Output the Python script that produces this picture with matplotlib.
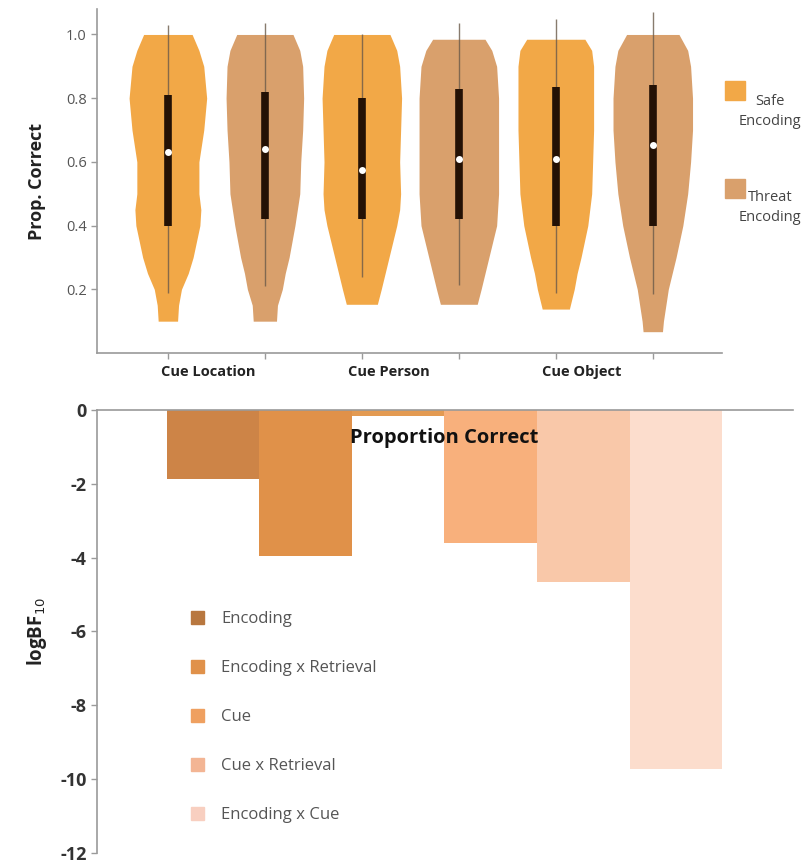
import numpy as np
import matplotlib
matplotlib.use("Agg")
import matplotlib.pyplot as plt
from matplotlib.patches import Patch, Rectangle

plt.rcParams["font.family"] = ["Open Sans", "DejaVu Sans"]

# ── Data: violin panel ────────────────────────────────────────────────────────
groups = ["Cue Location", "Cue Person", "Cue Object"]
encodings = ["Safe\nEncoding", "Threat\nEncoding"]

# violin outlines: y levels and half-widths (x units)
v_y = [
    [0.10, 0.15, 0.20, 0.25, 0.30, 0.40, 0.45, 0.50, 0.60, 0.70, 0.80, 0.90, 0.95, 1.00],
    [0.10, 0.15, 0.20, 0.25, 0.30, 0.40, 0.50, 0.60, 0.70, 0.80, 0.90, 0.95, 1.00],
    [0.153, 0.20, 0.25, 0.30, 0.40, 0.45, 0.50, 0.60, 0.70, 0.80, 0.90, 0.95, 1.00],
    [0.153, 0.20, 0.25, 0.30, 0.40, 0.50, 0.60, 0.70, 0.80, 0.90, 0.95, 0.985],
    [0.138, 0.20, 0.25, 0.30, 0.40, 0.50, 0.60, 0.70, 0.80, 0.90, 0.95, 0.985],
    [0.067, 0.10, 0.20, 0.30, 0.40, 0.50, 0.60, 0.70, 0.80, 0.90, 0.95, 1.00],
]
v_w = [
    [0.10, 0.11, 0.14, 0.21, 0.26, 0.33, 0.34, 0.32, 0.32, 0.37, 0.40, 0.37, 0.32, 0.25],
    [0.12, 0.13, 0.18, 0.21, 0.25, 0.31, 0.36, 0.37, 0.39, 0.40, 0.39, 0.36, 0.29],
    [0.16, 0.20, 0.24, 0.28, 0.36, 0.39, 0.40, 0.39, 0.40, 0.41, 0.39, 0.36, 0.29],
    [0.19, 0.23, 0.27, 0.31, 0.39, 0.41, 0.41, 0.41, 0.41, 0.39, 0.34, 0.27],
    [0.14, 0.19, 0.22, 0.26, 0.33, 0.37, 0.38, 0.39, 0.39, 0.39, 0.37, 0.30],
    [0.10, 0.11, 0.16, 0.24, 0.31, 0.36, 0.39, 0.41, 0.41, 0.39, 0.36, 0.27],
]
q1      = [0.40, 0.42, 0.42, 0.42, 0.40, 0.40]
medians = [0.63, 0.64, 0.575, 0.61, 0.61, 0.653]
q3      = [0.81, 0.82, 0.80, 0.83, 0.835, 0.84]
wlo     = [0.19, 0.21, 0.24, 0.215, 0.19, 0.185]
whi     = [1.03, 1.035, 1.00, 1.037, 1.05, 1.07]

# ── Data: Bayes factor panel ──────────────────────────────────────────────────
bf_values = [-1.87, -3.95, -0.17, -3.6, -4.66, -9.72]
bf_colors = ["#CD8447", "#E09149", "#E39A52", "#F8B07C", "#F9C8A9", "#FCDDCD"]
legend_labels = ["Encoding", "Encoding x Retrieval", "Cue", "Cue x Retrieval", "Encoding x Cue"]
legend_colors = ["#B8773F", "#E0914A", "#EFA060", "#F3B594", "#F8CFC0"]

SAFE, THREAT = "#F2A847", "#D9A06C"
GRAY = "#9a9a9a"

fig = plt.figure(figsize=(8.09, 8.64), dpi=100)

# ── (1) Violins ───────────────────────────────────────────────────────────────
ax1 = fig.add_axes([0.120, 0.5914, 0.772, 0.3982])
pos = np.arange(1, 7)
for i, p in enumerate(pos):
    col = SAFE if i % 2 == 0 else THREAT
    y = np.array(v_y[i]); w = np.array(v_w[i])
    ax1.fill_betweenx(y, p - w, p + w, color=col, lw=0, zorder=1)
    ax1.vlines(p, wlo[i], whi[i], color="#6b5a4a", lw=1.0, alpha=0.8, zorder=2)
    ax1.vlines(p, q1[i], q3[i], color="#241105", lw=5.5, zorder=3)
    ax1.plot(p, medians[i], "o", ms=5, color="white", mec="none", zorder=4)

ax1.set_xlim(0.27, 6.71)
ax1.set_ylim(0.0, 1.08)
ax1.set_yticks([0.2, 0.4, 0.6, 0.8, 1.0])
ax1.set_yticklabels(["0.2", "0.4", "0.6", "0.8", "1.0"], fontsize=10.5, color="#555")
ax1.set_xticks(pos)
ax1.set_xticklabels([])
ax1.tick_params(length=4, color=GRAY, width=1)
for s in ["top", "right"]:
    ax1.spines[s].set_visible(False)
for s in ["left", "bottom"]:
    ax1.spines[s].set_color(GRAY)
    ax1.spines[s].set_linewidth(1.2)
ax1.set_ylabel("Prop. Correct", fontsize=13, fontweight="bold", color="#222", labelpad=14)
for gx, g in zip([1.42, 3.28, 5.27], groups):
    ax1.text(gx, -0.055, g, ha="center", va="center", fontsize=10.5, fontweight="bold",
             color="#222", transform=ax1.get_xaxis_transform())

# legend on the right, drawn by hand
for (sq_y, txt_y), lab, col in zip([(0.884, 0.891), (0.771, 0.780)], encodings, [SAFE, THREAT]):
    fig.patches.append(Rectangle((725 / 809, sq_y), 20 / 809, 19 / 864, color=col,
                                 transform=fig.transFigure, figure=fig))
    fig.text(770 / 809, txt_y, lab, ha="center", va="top", fontsize=10.5, color="#444",
             linespacing=1.45)

# ── (2) Bayes factor bars ─────────────────────────────────────────────────────
ax2 = fig.add_axes([0.120, 0.0127, 0.860, 0.5128])
ax2.bar(np.arange(len(bf_values)), bf_values, width=1.0, color=bf_colors, lw=0, zorder=1)
ax2.set_xlim(-1.25, 6.26)
ax2.set_ylim(-12, 0)
ax2.set_yticks(np.arange(-12, 1, 2))
ax2.set_yticklabels([str(v) for v in range(-12, 1, 2)], fontsize=13, fontweight="bold",
                    color="#333")
ax2.set_xticks([])
ax2.tick_params(axis="y", length=4, color=GRAY, width=1)
for s in ["bottom", "right"]:
    ax2.spines[s].set_visible(False)
for s in ["left", "top"]:
    ax2.spines[s].set_color(GRAY)
    ax2.spines[s].set_linewidth(1.2)
ax2.set_ylabel("logBF$_{10}$", fontsize=13.5, fontweight="bold", color="#222", labelpad=8)
ax2.text(444 / 809, 1 - 438 / 864, "Proportion Correct", transform=fig.transFigure,
         ha="center", va="center", fontsize=14.5, fontweight="bold", color="#111", zorder=5)

handles = [Patch(color=c) for c in legend_colors]
fig.legend(handles, legend_labels, loc="upper left", bbox_to_anchor=(191 / 809, 1 - 611 / 864),
           frameon=False, fontsize=12, labelspacing=1.97, handlelength=0.8, handleheight=0.8,
           handletextpad=1.0, borderpad=0, borderaxespad=0, labelcolor="#555")

fig.savefig("out.png", dpi=100)
